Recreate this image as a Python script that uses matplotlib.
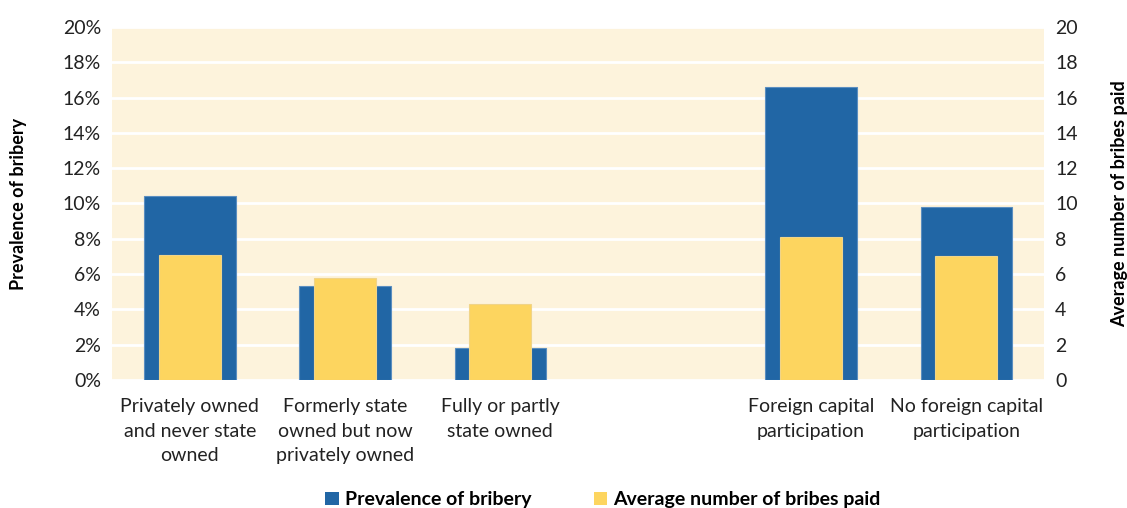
import numpy as np
import matplotlib
matplotlib.use('Agg')
from matplotlib import pyplot as plt
from matplotlib.ticker import FuncFormatter

categories = ['Privately owned\nand never state\nowned',
              'Formerly state\nowned but now\nprivately owned',
              'Fully or partly\nstate owned',
              '',
              'Foreign capital\nparticipation',
              'No foreign capital\nparticipation']
prevalence = [10.4, 5.3, 1.8, np.nan, 16.6, 9.8]      # percent
avg_bribes = [7.1, 5.8, 4.3, np.nan, 8.1, 7.0]

blue = '#2166a5'
yellow = '#fdd55f'
bg = '#fdf3dc'

plt.rcParams['font.family'] = ['Lato', 'DejaVu Sans']

fig = plt.figure(figsize=(11.27, 5.08), dpi=100)
ax = fig.add_axes([0.0994, 0.252, 0.827, 0.695])
ax2 = ax.twinx()

x = np.arange(len(categories))
ax.set_facecolor(bg)
ax.bar(x, prevalence, width=0.59, color=blue, edgecolor='#5b8ec0', linewidth=0.8,
       label='Prevalence of bribery', zorder=3)
ax2.bar(x, avg_bribes, width=0.40, color=yellow, edgecolor='#f0d488', linewidth=0.8,
        label='Average number of bribes paid', zorder=3)

ax.set_xlim(-0.5, len(categories) - 0.5)
ax.set_ylim(0, 20)
ax2.set_ylim(0, 20)
ax.set_yticks(np.arange(0, 21, 2))
ax2.set_yticks(np.arange(0, 21, 2))
ax.yaxis.set_major_formatter(FuncFormatter(lambda v, p: '%d%%' % v))
ax.yaxis.grid(True, color='white', linewidth=2, zorder=1)
ax.set_axisbelow(True)

ax.set_xticks(x)
ax.set_xticklabels(categories, fontsize=14, color='#222222', linespacing=1.55)
ax.tick_params(axis='x', length=0, pad=13)
ax.tick_params(axis='y', length=0, labelsize=14, labelcolor='#222222', pad=8)
ax2.tick_params(axis='y', length=0, labelsize=14, labelcolor='#222222', pad=8)

for a in (ax, ax2):
    for s in a.spines.values():
        s.set_visible(False)

ax.set_ylabel('Prevalence of bribery', fontsize=13, fontweight='bold', labelpad=26)
ax2.set_ylabel('Average number of bribes paid', fontsize=13, fontweight='bold',
               rotation=90, labelpad=24)

h1, l1 = ax.get_legend_handles_labels()
h2, l2 = ax2.get_legend_handles_labels()
leg = fig.legend(h1 + h2, l1 + l2, loc='lower center', bbox_to_anchor=(0.535, -0.035),
                 ncol=2, frameon=False, prop={'weight': 'bold', 'size': 14},
                 handlelength=0.7, handleheight=0.7, handletextpad=0.3, columnspacing=3.2)
for h in leg.legend_handles:
    h.set_edgecolor('none')

fig.savefig('out.png', dpi=100, facecolor='white')
